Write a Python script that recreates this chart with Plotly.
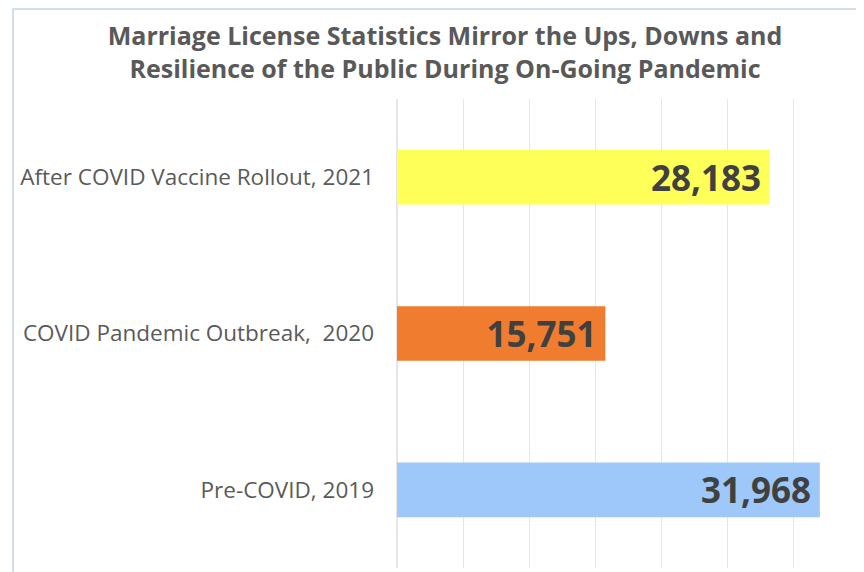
import plotly.graph_objects as go

categories = ["Pre-COVID, 2019", "COVID Pandemic Outbreak,  2020", "After COVID Vaccine Rollout, 2021"]
values = [31968, 15751, 28183]
colors = ["#9DC8F9", "#F07D2F", "#FFFF5A"]

# page is offset by the browser's default 8px body margin
OFF = 8
W, H = 864 - OFF, 572 - OFF
ml, mr, mt, mb = 397 - OFF, 4, 99 - OFF, 4
pw = W - ml - mr
ph = H - mt - mb

fig = go.Figure(go.Bar(
    y=categories,
    x=values,
    orientation="h",
    marker=dict(color=colors, line=dict(width=0)),
    texttemplate="%{x:,}\u2009",
    textposition="inside",
    insidetextanchor="end",
    textfont=dict(family="Open Sans", size=35, color="#404040", weight="bold"),
    hoverinfo="skip",
))

def px_x(p):
    return (p - OFF - ml) / pw

def px_y(p):
    return (H - mb - (p - OFF)) / ph

fig.add_shape(type="rect", xref="paper", yref="paper",
              x0=px_x(13), x1=px_x(880), y0=px_y(590), y1=px_y(9),
              line=dict(color="#C5D3E8", width=1.5), fillcolor="rgba(0,0,0,0)", layer="below")

fig.update_layout(
    width=W, height=H,
    margin=dict(l=ml, r=mr, t=mt, b=mb),
    paper_bgcolor="white",
    plot_bgcolor="white",
    bargap=0.65,
    showlegend=False,
    title=dict(
        text="Marriage License Statistics Mirror the Ups, Downs and<br>Resilience of the Public During On-Going Pandemic",
        x=(445 - OFF) / W, xanchor="center",
        y=1 - (45 - OFF) / H, yanchor="middle",
        font=dict(family="Open Sans", size=25, color="#595959", weight="bold"),
    ),
    xaxis=dict(
        range=[0, 35000], dtick=5000, showgrid=True, gridcolor="#E6E6E6", gridwidth=1,
        showticklabels=False, zeroline=True, zerolinecolor="#E6E6E6", showline=False, fixedrange=True,
    ),
    yaxis=dict(
        showgrid=False, showline=False, zeroline=False,
        tickfont=dict(family="Open Sans", size=22.5, color="#5A5A5A"),
        ticklabelstandoff=22,
    ),
)

fig.write_html("out.html")
